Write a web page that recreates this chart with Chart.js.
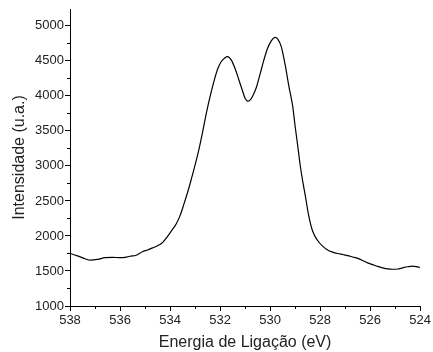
<!DOCTYPE html>
<html>
<head>
<meta charset="utf-8">
<script src="https://cdn.jsdelivr.net/npm/chart.js@4"></script>
<style>
  html, body { margin: 0; padding: 0; background: #fff; }
  #wrap { width: 433px; height: 352px; }
</style>
</head>
<body>
<div id="wrap"><canvas id="xpsChart" width="433" height="352"></canvas></div>
<script>
// energia de ligação (eV) e intensidade
const energia = [
  538.0, 537.7, 537.4, 537.2, 536.9, 536.6, 536.3, 536.0, 535.8, 535.6,
  535.35, 535.1, 534.9, 534.7, 534.5, 534.3, 534.1, 533.9, 533.75, 533.6,
  533.45, 533.3, 533.15, 533.0, 532.85, 532.7, 532.55, 532.4, 532.25, 532.1,
  531.95, 531.8, 531.7, 531.55, 531.4, 531.25, 531.1, 531.0, 530.9, 530.8,
  530.7, 530.55, 530.4, 530.25, 530.1, 529.95, 529.8, 529.7, 529.55, 529.4,
  529.25, 529.1, 529.0, 528.9, 528.8, 528.7, 528.6, 528.45, 528.3, 528.1,
  527.9, 527.7, 527.5, 527.3, 527.1, 526.9, 526.7, 526.5, 526.3, 526.1,
  525.9, 525.7, 525.5, 525.3, 525.1, 524.9, 524.7, 524.5, 524.3, 524.1, 524.0
];
const intensidade = [
  1750, 1715, 1675, 1655, 1665, 1690, 1695, 1690, 1695, 1710,
  1725, 1775, 1800, 1830, 1860, 1905, 1995, 2095, 2175, 2290,
  2450, 2620, 2810, 3010, 3230, 3480, 3750, 3990, 4200, 4380,
  4490, 4545, 4560, 4510, 4390, 4230, 4070, 3965, 3925, 3940,
  3995, 4120, 4310, 4510, 4680, 4785, 4835, 4815, 4700, 4450,
  4140, 3860, 3570, 3300, 3020, 2790, 2590, 2280, 2070, 1935,
  1855, 1800, 1770, 1750, 1735, 1720, 1700, 1680, 1650, 1615,
  1590, 1565, 1545, 1530, 1525, 1528, 1545, 1560, 1570, 1558, 1550
];

// marcas do eixo
const xMin = 524, xMax = 538, xStep = 2, xMinorStep = 1;
const yMin = 1000, yMax = 5240, yStep = 500, yMinorStep = 250;
const yTicks = [1000, 1500, 2000, 2500, 3000, 3500, 4000, 4500, 5000];

const fontFamily = '"Liberation Sans", Arial, sans-serif';

// desenha as marcas menores (fora da área do gráfico)
const minorTicks = {
  id: 'minorTicks',
  afterDraw(chart) {
    const ctx = chart.ctx;
    const x = chart.scales.x, y = chart.scales.y;
    ctx.save();
    ctx.strokeStyle = '#000';
    ctx.lineWidth = 1;
    ctx.beginPath();
    for (let v = xMin + xMinorStep; v < xMax; v += xStep) {
      const px = Math.round(x.getPixelForValue(v)) + 0.5;
      ctx.moveTo(px, y.bottom);
      ctx.lineTo(px, y.bottom + 3);
    }
    for (let v = yMin + yMinorStep; v < yMax; v += yStep) {
      const py = Math.round(y.getPixelForValue(v)) + 0.5;
      ctx.moveTo(x.left, py);
      ctx.lineTo(x.left - 3, py);
    }
    ctx.stroke();
    ctx.restore();
  }
};

const ctx = document.getElementById('xpsChart').getContext('2d');
const chart = new Chart(ctx, {
  type: 'line',
  data: {
    datasets: [{
      data: energia.map((e, i) => ({ x: e, y: intensidade[i] })),
      borderColor: '#000',
      borderWidth: 1.2,
      pointRadius: 0,
      fill: false,
      cubicInterpolationMode: 'monotone'
    }]
  },
  options: {
    responsive: false,
    animation: false,
    layout: { padding: { top: 9, right: 11, left: 0, bottom: 0 } },
    plugins: { legend: { display: false }, tooltip: { enabled: false } },
    scales: {
      x: {
        type: 'linear',
        reverse: true,
        min: xMin,
        max: xMax,
        afterFit: s => { s.height = 46; },
        ticks: {
          stepSize: xStep,
          color: '#222',
          padding: 2,
          maxRotation: 0,
          autoSkip: false,
          callback: v => String(v),
          font: { family: fontFamily, size: 13 }
        },
        grid: { drawOnChartArea: false, drawTicks: true, tickLength: 5, color: '#000' },
        border: { display: true, color: '#000', width: 1 },
        title: {
          display: true,
          text: 'Energia de Ligação (eV)',
          color: '#222',
          padding: { top: 2, bottom: 0 },
          font: { family: fontFamily, size: 16 }
        }
      },
      y: {
        min: yMin,
        max: yMax,
        afterFit: s => { s.width = 70; },
        afterBuildTicks: s => { s.ticks = yTicks.map(v => ({ value: v })); },
        ticks: {
          color: '#222',
          padding: 1,
          autoSkip: false,
          callback: v => String(Math.round(v)),
          font: { family: fontFamily, size: 13 }
        },
        grid: { drawOnChartArea: false, drawTicks: true, tickLength: 5, color: '#000' },
        border: { display: true, color: '#000', width: 1 },
        title: {
          display: true,
          text: 'Intensidade (u.a.)',
          color: '#222',
          padding: { top: 10, bottom: 4 },
          font: { family: fontFamily, size: 16 }
        }
      }
    }
  },
  plugins: [minorTicks]
});
</script>
</body>
</html>
